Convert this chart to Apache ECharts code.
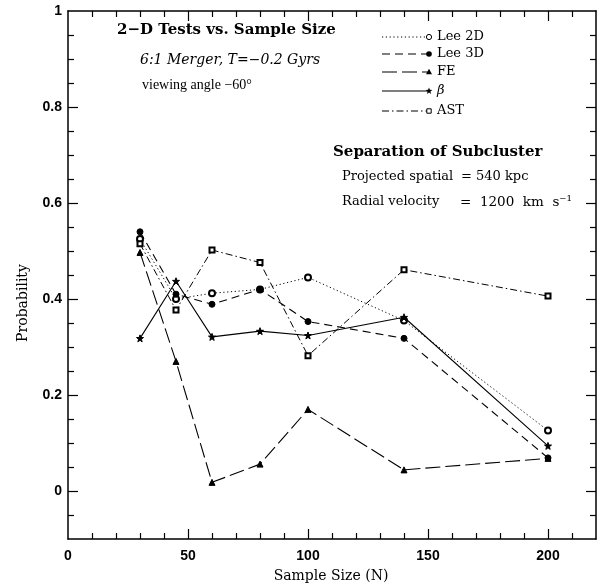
<!DOCTYPE html>
<html>
<head>
<meta charset="utf-8">
<script src="https://cdn.jsdelivr.net/npm/echarts@6/dist/echarts.min.js"></script>
<style>
  html, body { margin: 0; padding: 0; background: #fff; }
  #chart { width: 598px; height: 584px; }
</style>
</head>
<body>
<div id="chart"></div>
<script>
// Sample sizes (N) at which each test was evaluated
const sampleSizes = [30, 45, 60, 80, 100, 140, 200];

// Probability returned by each 2-D test
const lee2D = [0.525, 0.400, 0.412, 0.420, 0.445, 0.355, 0.126];
const lee3D = [0.540, 0.410, 0.389, 0.420, 0.353, 0.318, 0.069];
const fe    = [0.497, 0.270, 0.018, 0.056, 0.170, 0.044, 0.068];
const beta  = [0.318, 0.437, 0.321, 0.333, 0.324, 0.362, 0.094];
const ast   = [0.515, 0.377, 0.502, 0.476, 0.282, 0.461, 0.406];

// Axis ranges and tick labels
const xRange = [0, 220];
const yRange = [-0.1, 1];
const xTickLabels = [0, 50, 100, 150, 200];
const yTickLabels = [0, 0.2, 0.4, 0.6, 0.8, 1];

// Minor tick positions: every 10 in N, every 0.05 in probability
const xMinor = [];
for (let v = 10; v < 220; v += 10) if (v % 50 !== 0) xMinor.push(v);
const yMinor = [];
for (let k = -1; k < 20; k++) if (k % 4 !== 0) yMinor.push(+(k * 0.05).toFixed(2));
const xMajor = xTickLabels.filter(v => v > 0);
const yMajor = yTickLabels.filter(v => v < 1);

const STAR = 'path://M0,-10L2.35,-3.24L9.51,-3.09L3.8,1.24L5.88,8.09L0,4L-5.88,8.09L-3.8,1.24L-9.51,-3.09L-2.35,-3.24Z';
const SERIF = '"DejaVu Serif", "Liberation Serif", serif';
const TIMES = '"Liberation Serif", "DejaVu Serif", serif';
const SANS = '"Liberation Sans", Arial, sans-serif';

const seriesDefs = [
  { name: 'Lee 2D', data: lee2D, symbol: 'emptyCircle', size: 6, dash: [1.2, 2.6], width: 1 },
  { name: 'Lee 3D', data: lee3D, symbol: 'circle', size: 6, dash: [8, 5], width: 1.1 },
  { name: 'FE', data: fe, symbol: 'triangle', size: 6, dash: [15, 5], width: 1.1 },
  { name: 'β', data: beta, symbol: STAR, size: 7, dash: 'solid', width: 1.1 },
  { name: 'AST', data: ast, symbol: 'emptyRect', size: 5, dash: [7, 3, 1.5, 3], width: 1 }
];

const frameLine = { show: true, onZero: false, lineStyle: { color: '#000', width: 1.5 } };
const noLine = { show: false, onZero: false };
const tickLabelStyle = { fontFamily: SANS, fontWeight: 'bold', fontSize: 14, color: '#000' };

function xAxis(pos, ticks, len, labels, drawLine) {
  return {
    type: 'value', position: pos, min: xRange[0], max: xRange[1],
    axisLine: drawLine ? frameLine : noLine,
    splitLine: { show: false },
    axisTick: { show: true, inside: true, length: len, customValues: ticks,
                lineStyle: { color: '#000', width: 1.2 } },
    axisLabel: labels ? Object.assign({ show: true, customValues: labels, margin: 10 }, tickLabelStyle)
                      : { show: false }
  };
}
function yAxis(pos, ticks, len, labels, drawLine) {
  return {
    type: 'value', position: pos, min: yRange[0], max: yRange[1],
    axisLine: drawLine ? frameLine : noLine,
    splitLine: { show: false },
    axisTick: { show: true, inside: true, length: len, customValues: ticks,
                lineStyle: { color: '#000', width: 1.2 } },
    axisLabel: labels ? Object.assign({ show: true, customValues: labels, margin: 6 }, tickLabelStyle)
                      : { show: false }
  };
}

// Legend samples: line segment ending in the series marker
const legendRows = [37, 54, 72, 91, 111];
const legendX0 = 382, legendX1 = 429, legendTextX = 437;
function markerGraphic(def, x, y) {
  const stroke = { stroke: '#000', lineWidth: 1 };
  switch (def.name) {
    case 'Lee 2D': return { type: 'circle', shape: { cx: x, cy: y, r: 2.6 }, style: { fill: '#fff', ...stroke } };
    case 'Lee 3D': return { type: 'circle', shape: { cx: x, cy: y, r: 2.8 }, style: { fill: '#000' } };
    case 'FE': return { type: 'polygon', shape: { points: [[x, y - 3.2], [x + 3, y + 2.2], [x - 3, y + 2.2]] }, style: { fill: '#000' } };
    case 'β': {
      const pts = [];
      for (let i = 0; i < 10; i++) {
        const r = i % 2 === 0 ? 3.6 : 1.5;
        const a = -Math.PI / 2 + i * Math.PI / 5;
        pts.push([x + r * Math.cos(a), y + r * Math.sin(a)]);
      }
      return { type: 'polygon', shape: { points: pts }, style: { fill: '#000' } };
    }
    default: return { type: 'rect', shape: { x: x - 2.2, y: y - 2.2, width: 4.4, height: 4.4 }, style: { fill: '#fff', ...stroke } };
  }
}

const graphics = [];
seriesDefs.forEach((def, i) => {
  const y = legendRows[i];
  graphics.push({
    type: 'line', shape: { x1: legendX0, y1: y, x2: legendX1, y2: y },
    style: { stroke: '#000', lineWidth: def.width, lineDash: def.dash === 'solid' ? null : def.dash }
  });
  graphics.push(markerGraphic(def, legendX1, y));
  graphics.push({
    type: 'text',
    style: { x: legendTextX, y: y, text: def.name, fill: '#000',
             font: (def.name === 'β' ? 'italic ' : '') + '13px ' + SERIF,
             verticalAlign: 'middle', textVerticalAlign: 'middle' }
  });
});

function label(text, x, y, font, align) {
  return {
    type: 'text',
    style: { x: x, y: y, text: text, fill: '#000', font: font,
             align: align || 'left', textAlign: align || 'left',
             verticalAlign: 'middle', textVerticalAlign: 'middle' }
  };
}

graphics.push(
  label('2\u2212D Tests vs. Sample Size', 117, 30, 'bold 15px ' + SERIF),
  label('6:1 Merger, T=\u22120.2 Gyrs', 140, 60, 'italic 14px ' + SERIF),
  label('viewing angle \u221260\u00b0', 142, 85, '14px ' + TIMES),
  label('Separation of Subcluster', 333, 152, 'bold 15px ' + SERIF),
  label('Projected spatial', 342, 177, '13px ' + SERIF),
  label('= 540 kpc', 461, 177, '13px ' + SERIF),
  label('Radial velocity', 342, 202, '13px ' + SERIF),
  label('=  1200  km  s\u207b\u00b9', 460, 202, '13.5px ' + SERIF),
  label('Sample Size (N)', 331, 576, '14px ' + SERIF, 'center'),
  { type: 'text', x: 23, y: 303, rotation: Math.PI / 2,
    style: { x: 0, y: 0, text: 'Probability', fill: '#000', font: '14px ' + SERIF,
             align: 'center', textAlign: 'center', verticalAlign: 'middle', textVerticalAlign: 'middle' } }
);

const chart = echarts.init(document.getElementById('chart'), null, { renderer: 'canvas' });
chart.setOption({
  animation: false,
  backgroundColor: '#fff',
  grid: { left: 68, right: 2, top: 11, bottom: 45, containLabel: false },
  xAxis: [
    xAxis('bottom', xMajor, 10, xTickLabels, true),
    xAxis('bottom', xMinor, 6, null, false),
    xAxis('top', xMajor, 10, null, true),
    xAxis('top', xMinor, 6, null, false)
  ],
  yAxis: [
    yAxis('left', yMajor, 10, yTickLabels, true),
    yAxis('left', yMinor, 6, null, false),
    yAxis('right', yMajor, 10, null, true),
    yAxis('right', yMinor, 6, null, false)
  ],
  series: seriesDefs.map(def => ({
    name: def.name,
    type: 'line',
    xAxisIndex: 0,
    yAxisIndex: 0,
    data: sampleSizes.map((n, i) => [n, def.data[i]]),
    symbol: def.symbol,
    symbolSize: def.size,
    showAllSymbol: true,
    lineStyle: { color: '#000', width: def.width, type: def.dash },
    itemStyle: { color: '#000', borderColor: '#000', borderWidth: 1 }
  })),
  graphic: graphics
});
</script>
</body>
</html>
